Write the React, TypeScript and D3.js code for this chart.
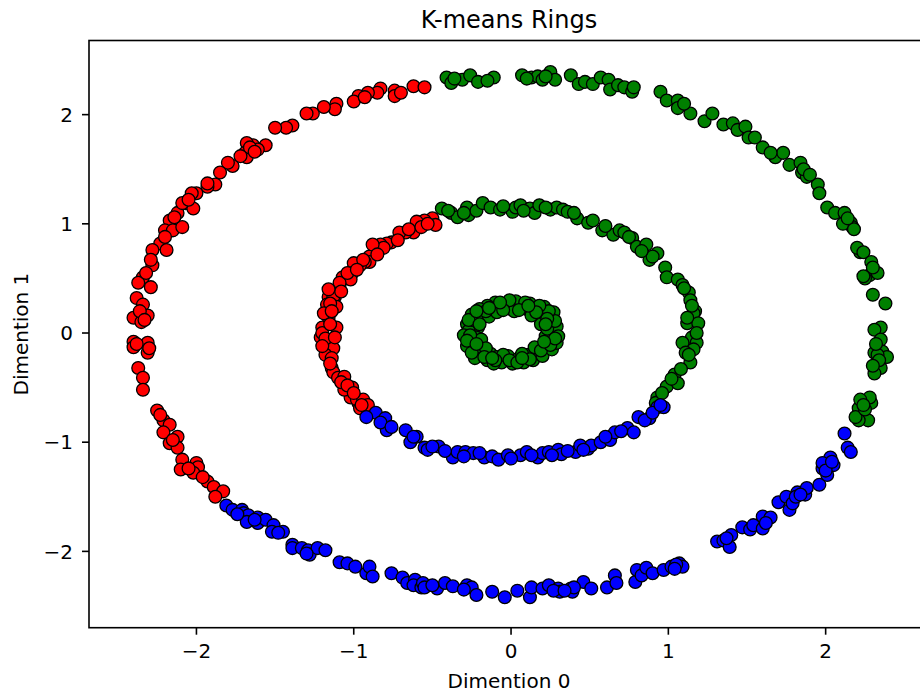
import React from "react";
import * as d3 from "d3";

// ---- Data ----
const title = "K-means Rings";
const xLabel = "Dimention 0";
const yLabel = "Dimention 1";
const xTicks = [-2, -1, 0, 1, 2];
const yTicks = [-2, -1, 0, 1, 2];
const xDomain = [-2.683, 2.657];
const yDomain = [-2.699, 2.679];

const redOuter: [number, number][] = [
  [-0.62, 2.26], [-0.55, 2.25], [-0.74, 2.22], [-0.74, 2.17], [-0.83, 2.24], [-0.85, 2.2], [-0.91, 2.2],
  [-0.97, 2.17], [-1.0, 2.12], [-1.11, 2.1], [-1.12, 2.05], [-1.26, 2.01], [-1.3, 2.01], [-1.39, 1.9],
  [-1.43, 1.88], [-1.5, 1.88], [-1.56, 1.72], [-1.64, 1.72], [-1.68, 1.74], [-1.69, 1.65], [-1.68, 1.61],
  [-1.61, 1.68], [-1.77, 1.53], [-1.8, 1.56], [-1.85, 1.47], [-1.88, 1.36], [-1.93, 1.34], [-2.0, 1.28],
  [-2.03, 1.28], [-2.07, 1.19], [-2.02, 1.14], [-2.12, 1.1], [-2.17, 1.03], [-2.2, 0.94], [-2.15, 0.94],
  [-2.09, 0.97], [-1.93, 1.37], [-2.09, 1.19], [-2.23, 0.82], [-2.28, 0.76], [-2.19, 0.76], [-2.28, 0.62],
  [-2.29, 0.67], [-2.34, 0.51], [-2.29, 0.42], [-2.37, 0.46], [-2.38, 0.32], [-2.34, 0.26], [-2.4, 0.14],
  [-2.35, 0.1], [-2.31, 0.16], [-2.4, -0.08], [-2.31, -0.09], [-2.31, -0.18], [-2.4, -0.13], [-2.37, -0.32],
  [-2.34, -0.41], [-2.34, -0.52], [-2.25, -0.71], [-2.21, -0.8], [-2.17, -0.84], [-2.21, -0.91],
  [-2.12, -0.95], [-2.17, -1.01], [-2.12, -1.05], [-2.09, -1.16], [-2.0, -1.19], [-1.99, -1.23],
  [-2.1, -1.25], [-2.02, -1.28], [-1.93, -1.36], [-1.89, -1.41], [-1.83, -1.45], [-1.88, -1.5],
  [-1.66, 1.7], [-1.63, 1.66], [-1.72, 1.62], [-2.05, 1.22], [-2.14, 1.06], [-2.2, 0.88], [-2.32, 0.55],
  [-2.36, 0.2], [-2.33, 0.12], [-2.38, -0.1], [-2.3, -0.14], [-2.23, -0.75], [-2.15, -0.98],
  [-2.05, -1.24], [-1.96, -1.32], [-1.19, 2.07], [-0.7, 2.2], [-0.93, 2.16],
];

const redMiddle: [number, number][] = [
  [-0.5, 1.05], [-0.48, 0.99], [-0.55, 1.03], [-0.6, 1.02], [-0.62, 0.92], [-0.67, 0.92], [-0.71, 0.92],
  [-0.76, 0.83], [-0.79, 0.82], [-0.83, 0.81], [-0.86, 0.76], [-0.9, 0.7], [-0.9, 0.65], [-0.93, 0.65],
  [-0.96, 0.62], [-1.0, 0.64], [-1.01, 0.55], [-1.07, 0.51], [-1.09, 0.44], [-1.12, 0.39], [-1.12, 0.33],
  [-1.16, 0.33], [-1.17, 0.26], [-0.81, 0.78], [-0.88, 0.81], [-0.94, 0.67], [-1.02, 0.49], [-1.09, 0.46],
  [-1.13, 0.33], [-1.11, 0.24], [-1.16, 0.14], [-1.11, 0.05], [-1.2, 0.05], [-1.21, -0.04], [-1.17, -0.11],
  [-1.13, -0.14], [-1.18, -0.2], [-1.14, -0.23], [-1.15, 0.27], [-1.2, 0.0], [-1.14, -0.32], [-1.13, -0.36],
  [-1.1, -0.41], [-1.06, -0.4], [-1.01, -0.5], [-1.02, -0.59], [-1.06, -0.52], [-0.97, -0.64],
  [-0.98, -0.61], [-0.92, -0.71], [-0.94, -0.61], [-0.96, -0.69], [-0.91, -0.66],
  [-1.19, 0.18], [-1.15, 0.08], [-1.18, -0.05], [-1.15, -0.28], [-1.08, -0.45], [-1.04, -0.48],
  [-1.14, 0.2], [-1.08, 0.38], [-1.04, 0.55], [-0.98, 0.58], [-0.85, 0.72], [-0.72, 0.85], [-0.65, 0.95],
  [-0.57, 0.97], [-0.53, 1.0], [-1.12, -0.04], [-1.0, -0.55], [-0.95, -0.66], [-1.2, -0.12], [-1.16, 0.4],
];

const blueOuter: [number, number][] = [
  [-1.81, -1.58], [-1.77, -1.62], [-1.71, -1.62], [-1.7, -1.65], [-1.67, -1.67], [-1.61, -1.69],
  [-1.68, -1.73], [-1.61, -1.74], [-1.56, -1.71], [-1.51, -1.76], [-1.52, -1.82], [-1.45, -1.82],
  [-1.48, -1.83], [-1.39, -1.94], [-1.39, -1.97], [-1.33, -1.97], [-1.29, -1.99], [-1.28, -2.03],
  [-1.23, -1.97], [-1.18, -1.99], [-1.09, -2.1], [-1.04, -2.11], [-0.99, -2.14], [-0.92, -2.2],
  [-0.9, -2.14], [-0.88, -2.23], [-0.76, -2.2], [-0.69, -2.24], [-0.66, -2.29], [-0.61, -2.26],
  [-0.62, -2.31], [-0.57, -2.33], [-0.56, -2.29], [-0.47, -2.34], [-0.42, -2.29], [-0.37, -2.32],
  [-0.28, -2.31], [-0.25, -2.33], [-0.22, -2.4], [-0.12, -2.37], [-0.04, -2.42], [0.04, -2.36],
  [0.12, -2.42], [0.13, -2.33], [0.2, -2.34], [0.24, -2.31], [0.3, -2.34], [0.31, -2.37], [0.38, -2.34],
  [0.39, -2.37], [0.46, -2.28], [0.51, -2.34], [0.61, -2.33], [0.66, -2.22], [0.67, -2.29], [0.79, -2.28],
  [0.8, -2.17], [0.83, -2.22], [0.86, -2.15], [0.9, -2.2], [0.97, -2.17], [1.02, -2.14], [1.07, -2.11],
  [1.09, -2.14], [1.31, -1.91], [1.35, -1.9], [1.39, -1.96], [1.4, -1.85], [1.47, -1.78], [1.52, -1.8],
  [1.54, -1.76], [1.6, -1.79], [1.6, -1.68], [1.65, -1.69], [1.7, -1.55], [1.75, -1.5], [1.77, -1.62],
  [1.79, -1.56], [1.82, -1.46], [1.87, -1.48], [1.88, -1.42], [1.96, -1.39], [1.98, -1.24], [2.01, -1.3],
  [2.05, -1.21], [2.03, -1.14], [1.98, -1.19], [2.12, -0.92], [2.14, -1.05], [2.16, -1.09],
  [-1.74, -1.66], [-1.63, -1.71], [-1.3, -2.02], [-0.55, -2.33], [-0.5, -2.31], [-0.3, -2.35],
  [0.27, -2.36], [0.4, -2.33], [0.34, -2.36], [1.05, -2.12], [1.04, -2.16], [1.81, -1.5], [1.84, -1.48],
  [2.0, -1.26], [2.04, -1.18], [1.62, -1.74], [1.37, -1.88],
];

const blueMiddle: [number, number][] = [
  [-0.86, -0.73], [-0.8, -0.78], [-0.79, -0.89], [-0.92, -0.77], [-0.67, -0.89], [-0.64, -1.0],
  [-0.6, -0.95], [-0.55, -1.05], [-0.53, -1.07], [-0.46, -1.04], [-0.37, -1.14], [-0.34, -1.09],
  [-0.29, -1.09], [-0.24, -1.1], [-0.17, -1.14], [-0.12, -1.13], [-0.08, -1.16], [-0.02, -1.12],
  [0.06, -1.12], [0.1, -1.09], [0.17, -1.14], [0.2, -1.1], [0.24, -1.09], [0.3, -1.07], [0.32, -1.11],
  [0.41, -1.09], [0.44, -1.03], [0.49, -1.06], [0.51, -1.03], [0.57, -1.0], [0.63, -0.98], [0.66, -0.91],
  [0.74, -0.87], [0.78, -0.91], [0.81, -0.77], [0.88, -0.78], [0.93, -0.68], [0.97, -0.68],
  [-0.83, -0.82], [-0.76, -0.86], [-0.62, -0.95], [-0.5, -1.04], [-0.42, -1.08], [-0.3, -1.13],
  [-0.2, -1.1], [0.0, -1.15], [0.13, -1.12], [0.26, -1.12], [0.36, -1.08], [0.46, -1.07], [0.6, -0.95],
  [0.7, -0.9], [0.85, -0.8], [0.9, -0.73], [0.95, -0.66],
];

const greenOuter: [number, number][] = [
  [-0.41, 2.34], [-0.38, 2.29], [-0.31, 2.32], [-0.26, 2.36], [-0.21, 2.3], [-0.11, 2.34], [0.07, 2.36],
  [0.13, 2.34], [0.17, 2.35], [0.2, 2.32], [0.25, 2.39], [0.28, 2.32], [0.38, 2.36], [0.43, 2.28],
  [0.47, 2.3], [0.52, 2.28], [0.57, 2.34], [0.62, 2.32], [0.63, 2.23], [0.68, 2.27], [0.72, 2.25],
  [0.77, 2.21], [0.78, 2.25], [0.95, 2.21], [0.99, 2.13], [1.06, 2.13], [1.06, 2.06], [1.14, 2.01],
  [1.23, 1.94], [1.28, 2.01], [1.35, 1.91], [1.41, 1.92], [1.44, 1.86], [1.49, 1.89], [1.51, 1.79],
  [1.55, 1.79], [1.6, 1.7], [1.68, 1.61], [1.73, 1.65], [1.77, 1.54], [1.84, 1.56], [1.85, 1.47],
  [1.88, 1.43], [1.95, 1.36], [1.96, 1.28], [2.01, 1.15], [2.06, 1.1], [2.12, 1.1], [2.16, 1.01],
  [2.17, 0.97], [2.11, 1.0], [2.22, 0.74], [2.2, 0.78], [2.24, 0.74], [2.29, 0.65], [2.28, 0.53],
  [2.25, 0.5], [2.33, 0.55], [2.3, 0.35], [2.38, 0.27], [2.35, 0.05], [2.31, 0.03], [2.36, -0.17],
  [2.31, -0.18], [2.35, -0.32], [2.31, -0.37], [2.39, -0.22], [2.33, -0.2], [2.35, -0.06], [2.29, -0.64],
  [2.21, -0.69], [2.27, -0.8], [2.21, -0.8], [2.28, -0.59], [2.22, -0.61], [2.19, -0.77],
  [2.3, 0.6], [2.24, 0.52], [2.32, -0.1], [2.34, -0.25], [2.3, -0.3], [2.25, -0.7], [2.24, -0.66],
  [2.18, 0.95], [2.14, 1.05], [1.86, 1.5], [1.9, 1.45], [1.65, 1.65], [0.1, 2.33], [0.22, 2.35],
  [-0.36, 2.33], [-0.15, 2.31], [1.1, 2.1],
];

const greenMiddle: [number, number][] = [
  [-0.44, 1.14], [-0.38, 1.1], [-0.34, 1.06], [-0.27, 1.08], [-0.28, 1.15], [-0.22, 1.12], [-0.18, 1.19],
  [-0.13, 1.15], [-0.07, 1.13], [0.01, 1.11], [0.03, 1.15], [0.06, 1.17], [0.12, 1.14], [0.15, 1.1],
  [0.18, 1.17], [0.25, 1.13], [0.29, 1.15], [0.33, 1.13], [0.36, 1.11], [0.42, 1.05], [0.49, 1.01],
  [0.52, 1.03], [0.58, 0.94], [0.65, 0.9], [0.69, 0.94], [0.72, 0.92], [0.77, 0.87], [0.8, 0.79],
  [0.86, 0.81], [0.88, 0.67], [0.93, 0.73], [0.98, 0.6], [0.99, 0.51], [1.06, 0.49], [1.09, 0.44],
  [1.13, 0.37], [1.14, 0.3], [1.17, 0.2], [1.16, 0.18], [1.12, 0.09], [1.19, 0.09], [1.15, -0.04],
  [1.09, -0.09], [1.18, -0.09], [1.16, -0.15], [1.14, -0.27], [1.11, -0.18], [1.04, -0.38], [0.99, -0.49],
  [1.06, -0.46], [0.93, -0.59], [0.92, -0.64],
  [1.1, 0.41], [1.15, 0.25], [1.18, 0.0], [1.13, -0.2], [1.08, -0.33], [1.02, -0.42], [0.96, -0.55],
  [1.12, 0.14], [0.9, 0.7], [0.83, 0.75], [0.75, 0.88], [0.6, 0.98], [-0.4, 1.12], [-0.3, 1.1],
  [-0.05, 1.16], [0.08, 1.12], [0.22, 1.15], [0.4, 1.1],
];

const greenInner: [number, number][] = [
  [0.27, 0.02], [0.22, -0.03], [0.29, 0.06], [0.25, 0.1], [0.2, 0.12], [0.26, 0.14], [0.21, 0.18],
  [0.17, 0.2], [0.15, 0.24], [0.1, 0.22], [0.12, 0.27], [0.06, 0.25], [0.03, 0.29], [0.0, 0.22],
  [-0.03, 0.27], [-0.07, 0.24], [-0.1, 0.28], [-0.12, 0.21], [-0.15, 0.25], [-0.18, 0.19], [-0.2, 0.22],
  [-0.22, 0.14], [-0.25, 0.17], [-0.24, 0.09], [-0.28, 0.08], [-0.21, 0.05], [-0.27, 0.02], [-0.3, -0.02],
  [-0.22, -0.04], [-0.26, -0.08], [-0.2, -0.11], [-0.24, -0.14], [-0.18, -0.17], [-0.21, -0.2],
  [-0.13, -0.19], [-0.15, -0.25], [-0.09, -0.22], [-0.06, -0.27], [-0.02, -0.21], [0.01, -0.28],
  [0.05, -0.23], [0.08, -0.27], [0.11, -0.2], [0.14, -0.25], [0.17, -0.17], [0.2, -0.21], [0.22, -0.12],
  [0.26, -0.15], [0.24, -0.07], [0.29, -0.09], [0.19, 0.08], [-0.19, -0.06], [0.02, 0.2], [-0.05, -0.2],
  [0.13, 0.16], [-0.14, 0.15], [0.15, -0.13], [-0.16, -0.14], [0.3, -0.03], [-0.01, 0.3], [0.21, 0.24],
  [-0.23, -0.23], [0.09, 0.28], [-0.11, -0.28], [0.27, 0.19], [-0.28, -0.12], [-0.09, 0.19], [0.07, -0.19],
  [0.23, 0.04], [-0.25, 0.12],
  [0.28, 0.11], [0.24, 0.2], [0.18, 0.25], [0.05, 0.21], [-0.05, 0.21], [-0.16, 0.2], [-0.27, 0.12],
  [-0.26, -0.02], [-0.28, -0.07], [-0.25, -0.18], [-0.17, -0.22], [-0.1, -0.25], [-0.01, -0.25],
  [0.04, -0.27], [0.12, -0.24], [0.19, -0.16], [0.25, -0.11], [0.28, -0.05], [0.23, 0.13], [-0.22, 0.2],
  [-0.2, 0.08], [-0.22, -0.1], [0.21, -0.08], [0.22, 0.08], [-0.07, 0.28], [0.07, -0.23], [0.16, 0.19],
  [-0.12, -0.23], [0.11, 0.25], [-0.14, 0.23],
];

const clusterColors = ["#ff0000", "#008000", "#0000ff"];

export default function App() {
  const W = 920;
  const H = 693;
  const left = 89;
  const right = 929;
  const top = 40.5;
  const bottom = 627.7;

  const x = d3.scaleLinear().domain(xDomain).range([left, right]);
  const y = d3.scaleLinear().domain(yDomain).range([bottom, top]);

  const groups: { pts: [number, number][]; color: string }[] = [
    { pts: redOuter, color: clusterColors[0] },
    { pts: redMiddle, color: clusterColors[0] },
    { pts: greenOuter, color: clusterColors[1] },
    { pts: greenMiddle, color: clusterColors[1] },
    { pts: greenInner, color: clusterColors[1] },
    { pts: blueOuter, color: clusterColors[2] },
    { pts: blueMiddle, color: clusterColors[2] },
  ];

  const font = "'DejaVu Sans', sans-serif";
  const fmt = (v: number) => (v < 0 ? "\u2212" + Math.abs(v) : String(v));

  return (
    <svg
      width={W}
      height={H}
      style={{ position: "absolute", left: 0, top: 0, background: "#fff" }}
      fontFamily={font}
    >
      <rect x={0} y={0} width={W} height={H} fill="#fff" />
      <g>
        {groups.map((g, gi) =>
          g.pts.map((p, i) => (
            <circle
              key={gi + "-" + i}
              cx={x(p[0])}
              cy={y(p[1])}
              r={6.4}
              fill={g.color}
              stroke="#000"
              strokeWidth={1.3}
            />
          ))
        )}
      </g>
      {/* spines */}
      <rect
        x={left}
        y={top}
        width={right - left}
        height={bottom - top}
        fill="none"
        stroke="#000"
        strokeWidth={1.6}
      />
      {/* x ticks */}
      {xTicks.map((t) => (
        <g key={"xt" + t}>
          <line x1={x(t)} x2={x(t)} y1={bottom} y2={bottom + 7} stroke="#000" strokeWidth={1.6} />
          <text x={x(t)} y={658} fontSize={20} textAnchor="middle" fill="#000">
            {fmt(t)}
          </text>
        </g>
      ))}
      {/* y ticks */}
      {yTicks.map((t) => (
        <g key={"yt" + t}>
          <line x1={left - 7} x2={left} y1={y(t)} y2={y(t)} stroke="#000" strokeWidth={1.6} />
          <text x={73} y={y(t) + 7.3} fontSize={20} textAnchor="end" fill="#000">
            {fmt(t)}
          </text>
        </g>
      ))}
      <text x={(left + right) / 2} y={688} fontSize={20} textAnchor="middle" fill="#000">
        {xLabel}
      </text>
      <text
        transform={`translate(28, ${(top + bottom) / 2}) rotate(-90)`}
        fontSize={20}
        textAnchor="middle"
        fill="#000"
      >
        {yLabel}
      </text>
      <text x={(left + right) / 2} y={28} fontSize={24} textAnchor="middle" fill="#000">
        {title}
      </text>
    </svg>
  );
}
